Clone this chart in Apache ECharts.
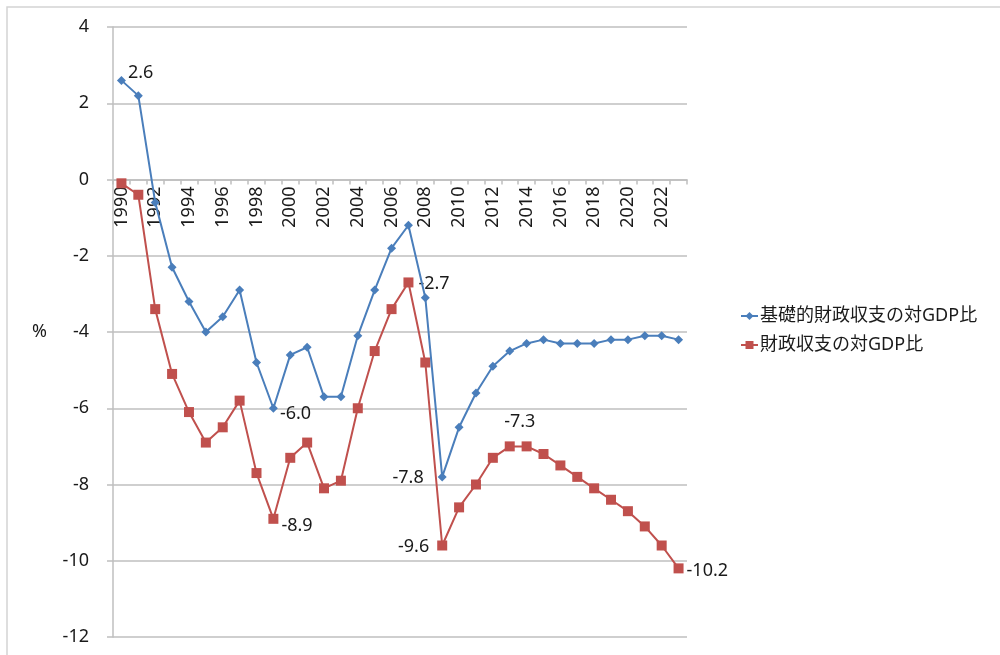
<!DOCTYPE html>
<html>
<head>
<meta charset="utf-8">
<script src="https://cdn.jsdelivr.net/npm/echarts@6/dist/echarts.min.js"></script>
<style>
    html, body { margin: 0; padding: 0; background: #fff; }
    #chart { width: 1000px; height: 655px; }
</style>
</head>
<body>
<div id="chart"></div>
<script>
// 年度
const years = [];
for (let y = 1990; y <= 2023; y++) years.push(String(y));

// 基礎的財政収支の対GDP比
const primaryBalance = [
    2.6, 2.2, -0.6, -2.3, -3.2, -4.0, -3.6, -2.9, -4.8, -6.0,
    -4.6, -4.4, -5.7, -5.7, -4.1, -2.9, -1.8, -1.2, -3.1, -7.8,
    -6.5, -5.6, -4.9, -4.5, -4.3, -4.2, -4.3, -4.3, -4.3, -4.2,
    -4.2, -4.1, -4.1, -4.2
];

// 財政収支の対GDP比
const fiscalBalance = [
    -0.1, -0.4, -3.4, -5.1, -6.1, -6.9, -6.5, -5.8, -7.7, -8.9,
    -7.3, -6.9, -8.1, -7.9, -6.0, -4.5, -3.4, -2.7, -4.8, -9.6,
    -8.6, -8.0, -7.3, -7.0, -7.0, -7.2, -7.5, -7.8, -8.1, -8.4,
    -8.7, -9.1, -9.6, -10.2
];

// 注記ラベル
const primaryNotes = { '1990': '2.6', '1999': '-6.0', '2009': '-7.8' };
const fiscalNotes = { '1999': '-8.9', '2007': '-2.7', '2009': '-9.6', '2013': '-7.3', '2023': '-10.2' };

const seriesNames = ['基礎的財政収支の対GDP比', '財政収支の対GDP比'];
const yTicks = { min: -12, max: 4, step: 2 };

const FONT = '"Noto Sans", "Noto Sans CJK JP", sans-serif';
const TXT = '#1a1a1a';
const GRID_TOP = 27, GRID_BOTTOM = 18, CHART_H = 655;

// ラベル位置（見た目の調整）
const primaryLabelPos = {
    '1990': { position: 'right', offset: [-2, -8] },
    '1999': { position: 'right', offset: [-2, 6] },
    '2009': { position: 'left', offset: [-10, 1] }
};
const fiscalLabelPos = {
    '1999': { position: 'right', offset: [-1, 7] },
    '2007': { position: 'right', offset: [1, 1] },
    '2009': { position: 'left', offset: [-4, 1] },
    '2013': { position: 'top', offset: [10, -7] },
    '2023': { position: 'right', offset: [-1, 2] }
};

function buildData(values, notes, posMap) {
    return values.map((v, i) => {
        const yr = years[i];
        if (notes[yr] === undefined) return v;
        return {
            value: v,
            label: Object.assign({
                show: true,
                formatter: notes[yr],
                color: TXT,
                fontSize: 18,
                fontFamily: FONT,
                distance: 4
            }, posMap[yr])
        };
    });
}

// x軸を0の位置に置く（下端からのずれ）
const plotH = CHART_H - GRID_TOP - GRID_BOTTOM;
const zeroOffset = -plotH * (0 - yTicks.min) / (yTicks.max - yTicks.min);

const chart = echarts.init(document.getElementById('chart'));
chart.setOption({
    animation: false,
    backgroundColor: '#fff',
    color: ['#4A7EBB', '#C0504D'],
    graphic: [
        {
            type: 'rect',
            shape: { x: 7, y: 7, width: 1200, height: 1000 },
            style: { fill: 'none', stroke: '#D4D4D4', lineWidth: 1.5 },
            silent: true
        }
    ],
    grid: {
        left: 113,
        right: 313,
        top: GRID_TOP,
        bottom: GRID_BOTTOM
    },
    legend: {
        orient: 'vertical',
        left: 735,
        top: 302,
        itemGap: 11,
        itemWidth: 17,
        itemHeight: 10,
        textStyle: { color: TXT, fontSize: 18, fontFamily: FONT, padding: [0, 0, 0, -3] },
        data: seriesNames
    },
    xAxis: {
        type: 'category',
        data: years,
        boundaryGap: true,
        position: 'bottom',
        offset: zeroOffset,
        axisLine: { onZero: false, lineStyle: { color: '#BFBFBF', width: 1.5 } },
        axisTick: { show: true, interval: 0, length: 5, lineStyle: { color: '#BFBFBF', width: 1.5 } },
        axisLabel: {
            interval: 1,
            rotate: 90,
            margin: 7,
            color: TXT,
            fontSize: 18,
            fontFamily: FONT
        },
        splitLine: { show: false }
    },
    yAxis: {
        type: 'value',
        min: yTicks.min,
        max: yTicks.max,
        interval: yTicks.step,
        name: '%',
        nameLocation: 'middle',
        nameRotate: 0,
        nameGap: 66,
        nameTextStyle: { color: TXT, fontSize: 18, fontFamily: FONT },
        axisLine: { show: true, lineStyle: { color: '#BFBFBF', width: 1.5 } },
        axisTick: { show: true, length: 6, lineStyle: { color: '#BFBFBF', width: 1.5 } },
        axisLabel: { margin: 24, color: TXT, fontSize: 18, fontFamily: FONT },
        splitLine: { show: true, lineStyle: { color: '#BFBFBF', width: 1.5 } }
    },
    series: [
        {
            name: seriesNames[0],
            type: 'line',
            symbol: 'diamond',
            symbolSize: 9,
            lineStyle: { width: 2 },
            data: buildData(primaryBalance, primaryNotes, primaryLabelPos),
            z: 3
        },
        {
            name: seriesNames[1],
            type: 'line',
            symbol: 'rect',
            symbolSize: 10,
            lineStyle: { width: 2 },
            data: buildData(fiscalBalance, fiscalNotes, fiscalLabelPos),
            z: 2
        }
    ]
});
</script>
</body>
</html>
